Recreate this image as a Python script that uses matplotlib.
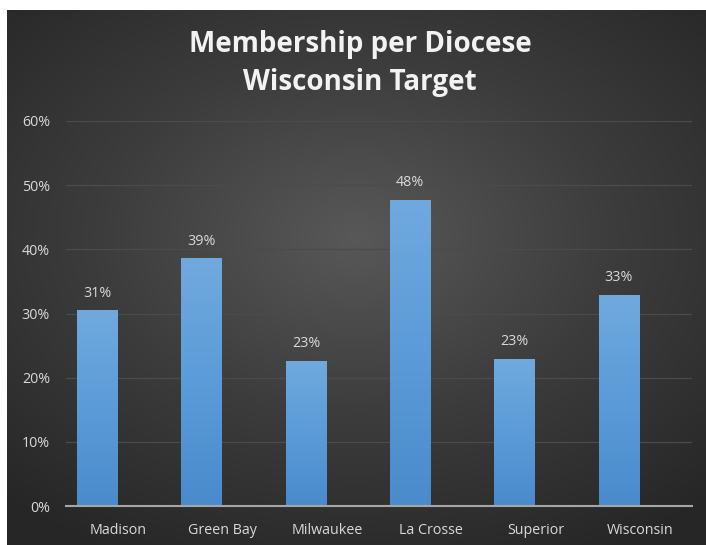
import numpy as np
import matplotlib
matplotlib.use("Agg")
import matplotlib.pyplot as plt
from matplotlib.colors import LinearSegmentedColormap

# --- données ---
dioceses = ["Madison", "Green Bay", "Milwaukee", "La Crosse", "Superior", "Wisconsin"]
membership = [0.305, 0.386, 0.226, 0.477, 0.229, 0.329]
labels = ["31%", "39%", "23%", "48%", "23%", "33%"]
yticks = [0, 0.1, 0.2, 0.3, 0.4, 0.5, 0.6]

plt.rcParams['font.family'] = ['Open Sans', 'DejaVu Sans']

fig = plt.figure(figsize=(7.06, 5.45), dpi=100)
fig.patch.set_facecolor("white")

# fond sombre avec dégradé radial
bg = fig.add_axes([7/706, 0, 699/706, 535/545])
bg.set_axis_off()
xx, yy = np.meshgrid(np.linspace(-1, 1, 400), np.linspace(-1, 1, 300))
r = np.sqrt((xx * 0.9) ** 2 + (yy + 0.15) ** 2)
bg_cmap = LinearSegmentedColormap.from_list("bg", ["#585858", "#3c3c3c", "#262626"])
bg.imshow(r, cmap=bg_cmap, aspect="auto", vmin=0, vmax=1.35, extent=[0, 1, 0, 1])
bg.set_xlim(0, 1)
bg.set_ylim(0, 1)

ax = fig.add_axes([66/706, (545-506)/545, 626/706, (506-121)/545])
ax.patch.set_alpha(0)

x = np.arange(len(dioceses))
# les barres sont décalées à gauche du centre de catégorie (comme dans Excel)
xb = x - 0.2
bars = ax.bar(xb, membership, width=0.39, color="#5b9bd5", zorder=2)

bar_cmap = LinearSegmentedColormap.from_list("bar", ["#4a8bcc", "#5b9bd8", "#70a9de"])
grad = np.linspace(0, 1, 100).reshape(-1, 1)
for b in bars:
    x0, w, h = b.get_x(), b.get_width(), b.get_height()
    im = ax.imshow(grad, cmap=bar_cmap, aspect="auto", origin="lower",
                   extent=[x0, x0 + w, 0, h], zorder=3)
    im.set_clip_path(b)

for xi, v, lab in zip(xb, membership, labels):
    ax.text(xi, v + 0.015, lab, ha="center", va="bottom", color="#d9d9d9", fontsize=10.3)

ax.set_xlim(-0.5, len(dioceses) - 0.5)
ax.set_ylim(0, 0.6)
ax.set_yticks(yticks)
ax.set_yticklabels([f"{int(t*100)}%" for t in yticks])
ax.set_xticks(x)
ax.set_xticklabels(dioceses)
ax.tick_params(colors="#d9d9d9", labelsize=10.3, length=0)
ax.tick_params(axis="y", pad=11.5)
ax.tick_params(axis="x", pad=12)
ax.grid(axis="y", color="#4b4b4b", linewidth=0.9, zorder=0)
ax.set_axisbelow(True)
for s in ["top", "right", "left"]:
    ax.spines[s].set_visible(False)
ax.spines["bottom"].set_color("#a6a6a6")
ax.spines["bottom"].set_linewidth(1.5)
ax.spines["bottom"].set_zorder(4)

fig.text(360/706, 1 - 52/545, "Membership per Diocese", ha="center", va="baseline",
         color="#f2f2f2", fontsize=20, fontweight="bold")
fig.text(360/706, 1 - 90/545, "Wisconsin Target", ha="center", va="baseline",
         color="#f2f2f2", fontsize=20, fontweight="bold")

fig.savefig("out.png", dpi=100)
